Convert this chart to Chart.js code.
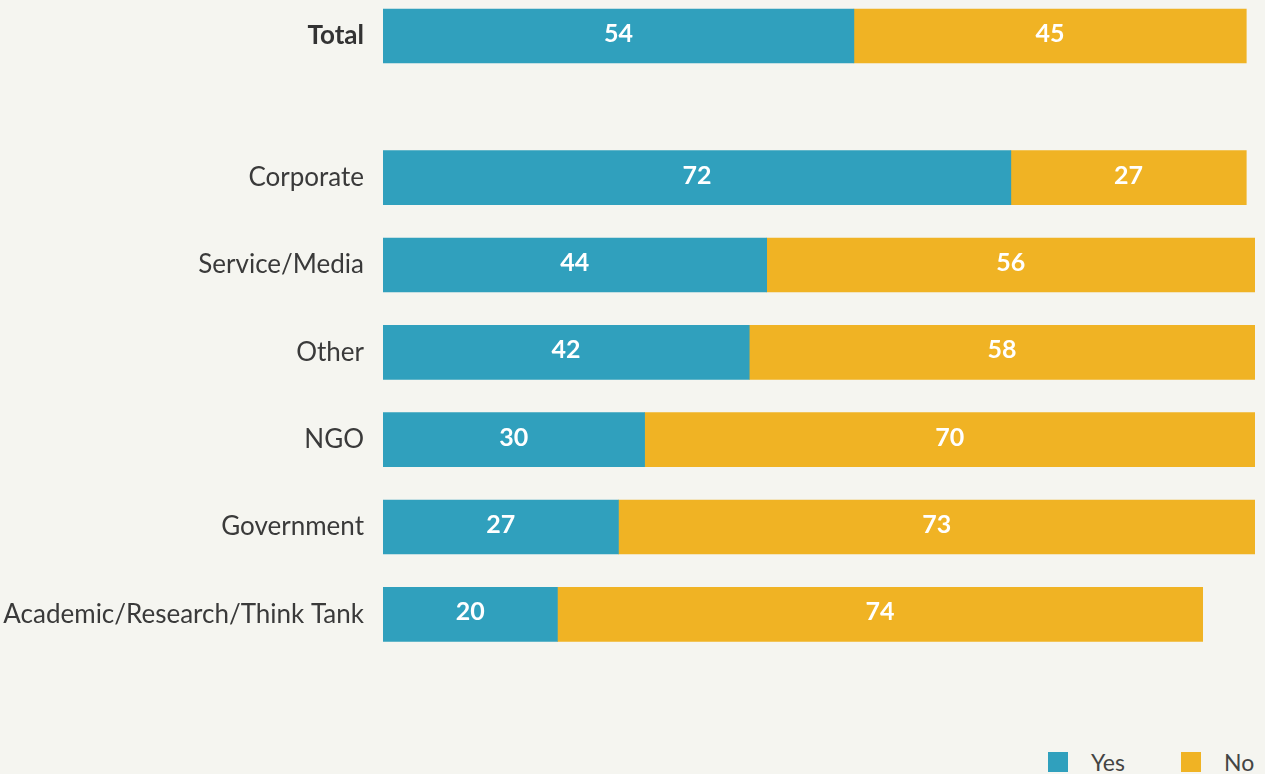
<!DOCTYPE html>
<html>
<head>
<meta charset="utf-8">
<title>Yes / No by sector</title>
<script src="https://cdn.jsdelivr.net/npm/chart.js@4.4.1/dist/chart.umd.min.js"></script>
<style>
    html, body { margin: 0; padding: 0; background: #f5f5f0; }
    body { width: 1265px; height: 774px; position: relative; overflow: hidden; font-family: Lato, "Open Sans", sans-serif; }
    .wrap { position: absolute; left: 0; width: 1265px; }
    #wrapTotal { top: 0; height: 72px; }
    #wrapSector { top: 134px; height: 524px; }
    .legend { position: absolute; top: 745px; left: 1048px; font-size: 23px; color: #444; white-space: nowrap; }
    .legend span { display: inline-block; vertical-align: middle; }
    .legend .box { width: 20px; height: 20px; }
</style>
</head>
<body>

<div class="wrap" id="wrapTotal"><canvas id="chartTotal"></canvas></div>
<div class="wrap" id="wrapSector"><canvas id="chartSector"></canvas></div>

<div class="legend">
    <span class="box" style="background:#30a0bd;"></span><span style="margin-left:23px;">Yes</span><span class="box" style="background:#f0b324;margin-left:56px;"></span><span style="margin-left:23px;">No</span>
</div>

<script>
// ── Datos ────────────────────────────────────────────────────────────────
var totalLabel = ['Total'];
var totalYes   = [54];
var totalNo    = [45];

var sectorLabels = ['Corporate', 'Service/Media', 'Other', 'NGO', 'Government', 'Academic/Research/Think Tank'];
var sectorYes    = [72, 44, 42, 30, 27, 20];
var sectorNo     = [27, 56, 58, 70, 73, 74];

var COLOR_YES = '#30a0bd';
var COLOR_NO  = '#f0b324';
var FONT      = 'Lato, "Open Sans", sans-serif';

// ── Etiquetas dentro de las barras ───────────────────────────────────────
var barLabels = {
    id: 'barLabels',
    afterDatasetsDraw: function (chart) {
        var ctx = chart.ctx;
        ctx.save();
        ctx.font = 'bold 25px ' + FONT;
        ctx.fillStyle = '#ffffff';
        ctx.textAlign = 'center';
        ctx.textBaseline = 'middle';
        chart.data.datasets.forEach(function (ds, i) {
            var meta = chart.getDatasetMeta(i);
            meta.data.forEach(function (el, j) {
                var cx = (el.x + el.base) / 2;
                ctx.fillText(String(ds.data[j]), cx, el.y - 2);
            });
        });
        ctx.restore();
    }
};

function makeChart(id, labels, yes, no, bold) {
    return new Chart(document.getElementById(id).getContext('2d'), {
        type: 'bar',
        data: {
            labels: labels,
            datasets: [
                { label: 'Yes', data: yes, backgroundColor: COLOR_YES, barThickness: 54 },
                { label: 'No',  data: no,  backgroundColor: COLOR_NO,  barThickness: 54 }
            ]
        },
        options: {
            indexAxis: 'y',
            responsive: true,
            maintainAspectRatio: false,
            animation: false,
            layout: { padding: { left: 0, right: 10, top: 0, bottom: 0 } },
            plugins: {
                legend: { display: false },
                tooltip: { enabled: false }
            },
            scales: {
                x: {
                    stacked: true,
                    min: 0,
                    max: 100,
                    display: false
                },
                y: {
                    stacked: true,
                    grid: { display: false, drawTicks: false },
                    border: { display: false },
                    ticks: {
                        padding: 19,
                        color: bold ? '#333333' : '#3a3a3a',
                        font: { family: FONT, size: 26, weight: bold ? 'bold' : 'normal' }
                    },
                    afterFit: function (scale) {
                        scale.width = 383;
                        scale.paddingTop = 0;
                        scale.paddingBottom = 0;
                    }
                }
            }
        },
        plugins: [barLabels]
    });
}

makeChart('chartTotal', totalLabel, totalYes, totalNo, true);
makeChart('chartSector', sectorLabels, sectorYes, sectorNo, false);
</script>
</body>
</html>
